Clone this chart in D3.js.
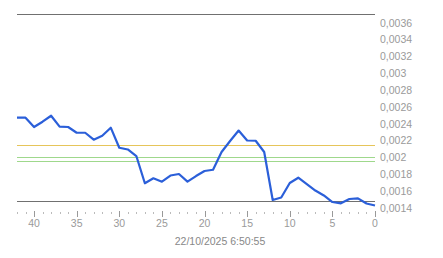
<!DOCTYPE html>
<html><head><meta charset="utf-8">
<script src="https://cdn.jsdelivr.net/npm/d3@7"></script>
<style>body{margin:0;background:#fff;}svg{display:block;font-family:"Liberation Sans",Arial,sans-serif;}</style>
</head><body><svg id="c" width="443" height="258"></svg>
<script>
const steps = d3.range(42, -1, -1);
const values = [0.002474,0.002474,0.002363,0.002426,0.002497,0.002367,0.002363,0.002295,0.002295,0.002212,
0.00226,0.002355,0.002117,0.002096,0.002018,0.001694,0.001753,0.001713,0.001786,0.001804,
0.001713,0.00178,0.00184,0.001855,0.002066,0.002197,0.002321,0.002203,0.0022,0.002066,
0.001495,0.001525,0.001697,0.00176,0.001685,0.001608,0.001549,0.001471,0.001456,0.001507,
0.001515,0.001454,0.00143];
const yTicks = [0.0036,0.0034,0.0032,0.003,0.0028,0.0026,0.0024,0.0022,0.002,0.0018,0.0016,0.0014];
const xMajor = [40,35,30,25,20,15,10,5,0];
const refLevels = [
  {v:0.003707, color:"#707070"},
  {v:0.00215, color:"#e6c55a"},
  {v:0.002012, color:"#9fd88c"},
  {v:0.001959, color:"#9fd88c"},
  {v:0.001483, color:"#707070"}
];
const dateLabel = "22/10/2025 6:50:55";

const svg = d3.select("#c");
const x = d3.scaleLinear().domain([42,0]).range([17,375]);
const y = d3.scaleLinear().domain([0.0014,0.0036]).range([208,23]);
const fmt = d => String(+d.toPrecision(4)).replace(".", ",");

svg.selectAll("line.ref").data(refLevels).join("line")
  .attr("x1", x(42)).attr("x2", x(0))
  .attr("y1", d => Math.round(y(d.v)) + 0.5).attr("y2", d => Math.round(y(d.v)) + 0.5)
  .attr("stroke", d => d.color).attr("stroke-width", 1.2);

svg.selectAll("text.yl").data(yTicks).join("text")
  .attr("x", 380).attr("y", d => y(d)).attr("dy", "0.35em")
  .attr("fill", "#9a9a9a").attr("font-size", "10.5px").text(fmt);

const minor = d3.range(0, 43);
svg.selectAll("line.xt").data(minor).join("line")
  .attr("x1", d => Math.round(x(d)) + 0.5).attr("x2", d => Math.round(x(d)) + 0.5)
  .attr("y1", d => d % 5 === 0 ? 211 : 212).attr("y2", d => d % 5 === 0 ? 217 : 214)
  .attr("stroke", d => d % 5 === 0 ? "#999" : "#bbb").attr("stroke-width", 1);
svg.selectAll("text.xl").data(xMajor).join("text")
  .attr("x", d => x(d)).attr("y", 223).attr("dy", "0.35em").attr("text-anchor", "middle")
  .attr("fill", "#9a9a9a").attr("font-size", "10.5px").text(d => d);
svg.append("text").attr("x", 220).attr("y", 241).attr("dy", "0.35em").attr("text-anchor", "middle")
  .attr("fill", "#888").attr("font-size", "10.5px").text(dateLabel);

const line = d3.line().x((d,i) => x(steps[i])).y(d => y(d));
svg.append("path").datum(values).attr("d", line)
  .attr("fill", "none").attr("stroke", "#2b5fd9").attr("stroke-width", 2.2).attr("stroke-linejoin", "round");
</script></body></html>
